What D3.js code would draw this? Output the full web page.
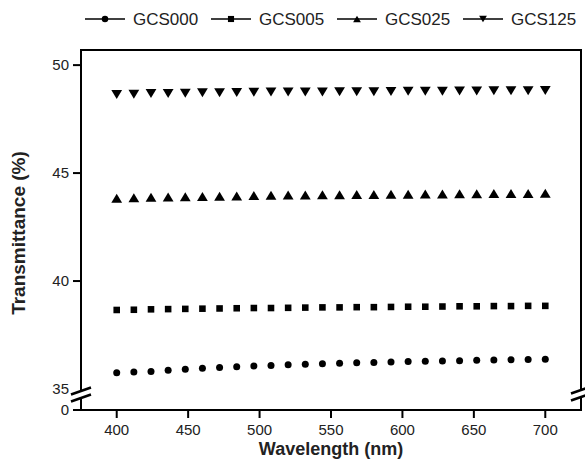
<!DOCTYPE html>
<html>
<head>
<meta charset="utf-8">
<script src="https://cdn.jsdelivr.net/npm/d3@7"></script>
<style>
  html, body { margin: 0; padding: 0; background: #fff; }
  svg { display: block; font-family: "Liberation Sans", Arial, sans-serif; }
</style>
</head>
<body>
<svg id="chart" width="585" height="472"></svg>
<script>
const wavelengths = [400,412,424,436,448,460,472,484,496,508,520,532,544,556,568,580,592,604,616,628,640,652,664,676,688,700];
const seriesNames = ["GCS000","GCS005","GCS025","GCS125"];
const GCS000 = [35.75,35.79,35.81,35.87,35.92,35.96,35.99,36.03,36.06,36.09,36.12,36.15,36.17,36.19,36.21,36.23,36.25,36.27,36.29,36.30,36.31,36.33,36.34,36.35,36.37,36.38];
const GCS005 = [38.66,38.67,38.69,38.70,38.71,38.72,38.73,38.74,38.75,38.75,38.76,38.77,38.78,38.78,38.79,38.79,38.80,38.81,38.81,38.82,38.83,38.83,38.84,38.84,38.85,38.85];
const GCS025 = [43.83,43.86,43.88,43.89,43.90,43.92,43.93,43.94,43.96,43.97,43.98,43.99,44.00,44.00,44.01,44.01,44.02,44.02,44.03,44.03,44.04,44.04,44.05,44.05,44.05,44.06];
const GCS125 = [48.64,48.65,48.68,48.69,48.70,48.72,48.72,48.73,48.74,48.75,48.75,48.76,48.76,48.77,48.77,48.77,48.78,48.79,48.79,48.79,48.80,48.80,48.81,48.81,48.81,48.82];
const xTicks = [400,450,500,550,600,650,700];
const yTicks = [0,35,40,45,50];
const markerTypes = ["circle","square","triangleUp","triangleDown"];

const seriesValues = [GCS000, GCS005, GCS025, GCS125];

const svg = d3.select("#chart");
const L = 81, R = 581, T = 50, B = 410;

const x = d3.scaleLinear().domain([375, 725]).range([L, R]);
// broken y axis: 0 at bottom, then 35..50.7
const y = d3.scaleLinear().domain([0, 35, 50.7]).range([B, 389, T]);

function markerPath(type, s) {
  if (type === "circle") {
    const r = s * 0.5;
    return `M${-r},0A${r},${r} 0 1,0 ${r},0A${r},${r} 0 1,0 ${-r},0Z`;
  }
  if (type === "square") {
    const h = s * 0.47;
    return `M${-h},${-h}H${h}V${h}H${-h}Z`;
  }
  if (type === "triangleUp") {
    const w = s * 0.6, hh = s * 0.5;
    return `M0,${-hh}L${w},${hh}L${-w},${hh}Z`;
  }
  const w = s * 0.6, hh = s * 0.5;
  return `M0,${hh}L${w},${-hh}L${-w},${-hh}Z`;
}

// frame/axes
const axisG = svg.append("g").attr("stroke", "#000").attr("stroke-width", 2).attr("fill", "none");
axisG.append("line").attr("x1", L).attr("x2", R).attr("y1", T).attr("y2", T);
axisG.append("line").attr("x1", L - 8).attr("x2", R + 1).attr("y1", B).attr("y2", B);
// left axis with break
axisG.append("line").attr("x1", L).attr("x2", L).attr("y1", T - 1).attr("y2", 391);
axisG.append("line").attr("x1", L).attr("x2", L).attr("y1", 398).attr("y2", B);
// right axis with break
axisG.append("line").attr("x1", R).attr("x2", R).attr("y1", T - 1).attr("y2", 390);
axisG.append("line").attr("x1", R).attr("x2", R).attr("y1", 397).attr("y2", B + 1);
// break slashes
[[L, 0], [L, 7], [R, -1], [R, 6]].forEach(([cx, dy]) => {
  axisG.append("line")
    .attr("x1", cx - 10).attr("y1", 394.5 + dy)
    .attr("x2", cx + 10).attr("y2", 387.5 + dy)
    .attr("stroke-width", 2.5);
});

// x ticks
const xt = svg.append("g");
xt.selectAll("line").data(xTicks).join("line")
  .attr("x1", d => x(d)).attr("x2", d => x(d))
  .attr("y1", B).attr("y2", B + 8)
  .attr("stroke", "#000").attr("stroke-width", 2);
xt.selectAll("text").data(xTicks).join("text")
  .attr("x", d => x(d)).attr("y", B + 25)
  .attr("text-anchor", "middle").attr("font-size", 15).attr("fill", "#222")
  .text(d => d);

// y ticks
const yt = svg.append("g");
yt.selectAll("line").data(yTicks.filter(d => d !== 0 && d !== 35)).join("line")
  .attr("x1", L - 8).attr("x2", L)
  .attr("y1", d => y(d)).attr("y2", d => y(d))
  .attr("stroke", "#000").attr("stroke-width", 2);
yt.selectAll("text").data(yTicks).join("text")
  .attr("x", L - 12).attr("y", d => y(d) + 5)
  .attr("text-anchor", "end").attr("font-size", 15).attr("fill", "#222")
  .text(d => d);

// axis titles
svg.append("text").attr("x", (L + R) / 2).attr("y", 455)
  .attr("text-anchor", "middle").attr("font-size", 18).attr("font-weight", "bold")
  .attr("fill", "#222").text("Wavelength (nm)");
svg.append("text")
  .attr("transform", `translate(25,233) rotate(-90)`)
  .attr("text-anchor", "middle").attr("font-size", 19).attr("font-weight", "bold")
  .attr("fill", "#222").text("Transmittance (%)");

// data markers
const markerSizes = {circle: 7, square: 7, triangleUp: 9, triangleDown: 9};
seriesValues.forEach((vals, i) => {
  const type = markerTypes[i];
  svg.append("g").selectAll("path").data(vals).join("path")
    .attr("transform", (d, j) => `translate(${x(wavelengths[j])},${y(d)})`)
    .attr("d", markerPath(type, markerSizes[type]))
    .attr("fill", "#000");
});

// legend
const legendX = [85, 211, 337, 463];
const legY = 19;
seriesNames.forEach((name, i) => {
  const g = svg.append("g").attr("transform", `translate(${legendX[i]},${legY})`);
  g.append("line").attr("x1", 0).attr("x2", 40).attr("y1", 0).attr("y2", 0)
    .attr("stroke", "#000").attr("stroke-width", 1.5);
  g.append("path").attr("transform", "translate(20,0)")
    .attr("d", markerPath(markerTypes[i], 6.5)).attr("fill", "#000");
  g.append("text").attr("x", 48).attr("y", 6)
    .attr("font-size", 17).attr("fill", "#222").text(name);
});
</script>
</body>
</html>
